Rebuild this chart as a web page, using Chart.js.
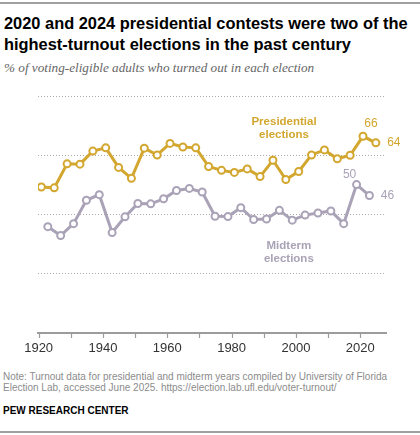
<!DOCTYPE html>
<html>
<head>
<meta charset="utf-8">
<script src="https://cdn.jsdelivr.net/npm/chart.js@4.4.1/dist/chart.umd.min.js"></script>
<style>
  body { margin: 0; width: 420px; height: 435px; background: #fff; position: relative; overflow: hidden; font-family: "Liberation Sans", Arial, sans-serif; }
  .rule { position: absolute; left: 0; width: 420px; height: 2px; background: #a0a0a0; }
  #title { position: absolute; left: 4px; top: 13px; width: 416px; font-weight: bold; font-size: 16.4px; line-height: 21px; color: #000; white-space: nowrap; }
  #subtitle { position: absolute; left: 4px; top: 60px; font-family: "Liberation Serif", Georgia, serif; font-style: italic; font-size: 13.2px; color: #666; }
  #chart-wrap { position: absolute; left: 0; top: 0; width: 420px; height: 358px; }
  #note { position: absolute; left: 3px; top: 372px; font-size: 10px; line-height: 10.5px; color: #8c8c8c; }
  #source { position: absolute; left: 3px; top: 405px; font-size: 10px; font-weight: bold; color: #000; }
</style>
</head>
<body>
<div class="rule" style="top:2px"></div>
<div id="title">2020 and 2024 presidential contests were two of the<br>highest-turnout elections in the past century</div>
<div id="subtitle">% of voting-eligible adults who turned out in each election</div>
<div id="chart-wrap"><canvas id="turnout-chart"></canvas></div>
<div id="note">Note: Turnout data for presidential and midterm years compiled by University of Florida<br>Election Lab, accessed June 2025. https://election.lab.ufl.edu/voter-turnout/</div>
<div id="source">PEW RESEARCH CENTER</div>
<div class="rule" style="top:431px"></div>

<script>
const presidentialYears = [1920, 1924, 1928, 1932, 1936, 1940, 1944, 1948, 1952, 1956, 1960, 1964, 1968, 1972,
  1976, 1980, 1984, 1988, 1992, 1996, 2000, 2004, 2008, 2012, 2016, 2020, 2024];
const presidentialTurnout = [49.3, 49.0, 57.1, 57.0, 61.4, 62.5, 55.9, 52.2, 62.4, 60.1, 64.0, 62.8, 62.5, 56.2,
  54.9, 54.2, 55.4, 52.8, 58.3, 51.8, 54.5, 60.1, 61.8, 58.8, 60.0, 66.4, 64.2];

const midtermYears = [1922, 1926, 1930, 1934, 1938, 1942, 1946, 1950, 1954, 1958, 1962, 1966, 1970, 1974,
  1978, 1982, 1986, 1990, 1994, 1998, 2002, 2006, 2010, 2014, 2018, 2022];
const midtermTurnout = [35.9, 32.9, 36.9, 44.8, 46.7, 33.9, 39.2, 43.7, 43.6, 45.3, 48.1, 48.8, 47.6, 39.4,
  39.3, 42.3, 38.3, 38.5, 41.4, 38.1, 39.8, 40.5, 41.2, 36.9, 50.1, 46.4];

const tickYears = [1920, 1930, 1940, 1950, 1960, 1970, 1980, 1990, 2000, 2010, 2020];
const labeledYears = [1920, 1940, 1960, 1980, 2000, 2020];
const gridValues = [0, 20, 40, 60, 80];

const GOLD = "#d3a72f";
const LAVENDER = "#aaa2b6";
const AXIS = "#9c9c9c";

// elections are held in early November, so plot each one near the end of its year
const NOV = 0.85;
const toPoints = (years, vals) => years.map((yr, i) => ({ x: yr + NOV, y: vals[i] }));

// text labels placed next to the lines
const notes = [
  { text: "Presidential", x: 1996.3, y: 71.4, dx: 0, dy: 0, color: GOLD, bold: true, size: 11.5 },
  { text: "elections", x: 1996.3, y: 71.4, dx: 0, dy: 13, color: GOLD, bold: true, size: 11.5 },
  { text: "66", x: 2020 + NOV, y: 66.4, dx: 8, dy: -13, color: GOLD, size: 12 },
  { text: "64", x: 2024 + NOV, y: 64.2, dx: 18, dy: 0, color: GOLD, size: 12 },
  { text: "50", x: 2018 + NOV, y: 50.1, dx: -7, dy: -10, color: LAVENDER, size: 12 },
  { text: "46", x: 2022 + NOV, y: 46.4, dx: 18, dy: 0, color: LAVENDER, size: 12 },
  { text: "Midterm", x: 1997.8, y: 29.5, dx: 0, dy: 0, color: LAVENDER, bold: true, size: 11.5 },
  { text: "elections", x: 1997.8, y: 29.5, dx: 0, dy: 13, color: LAVENDER, bold: true, size: 11.5 },
];

const lineLabels = {
  id: "lineLabels",
  afterDatasetsDraw(chart) {
    const { ctx, scales } = chart;
    ctx.save();
    ctx.textAlign = "center";
    ctx.textBaseline = "middle";
    notes.forEach(n => {
      ctx.font = (n.bold ? "bold " : "") + n.size + 'px "Liberation Sans", Arial, sans-serif';
      ctx.fillStyle = n.color;
      ctx.fillText(n.text, scales.x.getPixelForValue(n.x) + n.dx, scales.y.getPixelForValue(n.y) + n.dy);
    });
    ctx.restore();
  }
};

// solid baseline at 0 with small decade ticks hanging below it
const baseAxis = {
  id: "baseAxis",
  afterDraw(chart) {
    const { ctx, scales } = chart;
    const yb = Math.round(scales.y.getPixelForValue(0));
    const x0 = scales.x.getPixelForValue(scales.x.min);
    const x1 = scales.x.getPixelForValue(scales.x.max);
    ctx.save();
    ctx.setLineDash([]);
    ctx.globalAlpha = 1;
    ctx.strokeStyle = AXIS;
    ctx.lineWidth = 2;
    ctx.beginPath();
    ctx.moveTo(x0, yb);
    ctx.lineTo(x1, yb);
    ctx.stroke();
    ctx.lineWidth = 1.2;
    ctx.beginPath();
    tickYears.forEach(t => {
      const px = Math.round(scales.x.getPixelForValue(t)) + 0.5;
      ctx.moveTo(px, yb);
      ctx.lineTo(px, yb + 5);
    });
    ctx.stroke();
    ctx.restore();
  }
};

const seriesStyle = color => ({
  borderColor: color,
  backgroundColor: "#fff",
  borderWidth: 3,
  pointRadius: 3.5,
  pointBorderWidth: 2,
  pointBackgroundColor: "#fff",
  pointBorderColor: color,
  fill: false,
  tension: 0,
});

new Chart(document.getElementById("turnout-chart"), {
  type: "line",
  data: {
    datasets: [
      { label: "Presidential elections", data: toPoints(presidentialYears, presidentialTurnout), ...seriesStyle(GOLD) },
      { label: "Midterm elections", data: toPoints(midtermYears, midtermTurnout), ...seriesStyle(LAVENDER) },
    ]
  },
  options: {
    responsive: true,
    maintainAspectRatio: false,
    animation: false,
    layout: { padding: { left: 38, right: 34, top: 96, bottom: 0 } },
    plugins: { legend: { display: false }, tooltip: { enabled: false } },
    scales: {
      x: {
        type: "linear",
        min: 1919.8,
        max: 2028,
        afterBuildTicks: axis => { axis.ticks = tickYears.map(v => ({ value: v })); },
        afterFit: axis => { axis.height = 25; },
        grid: { display: false },
        border: { display: true, color: AXIS, width: 2 },
        ticks: {
          color: "#333",
          font: { size: 13, family: '"Liberation Sans", Arial, sans-serif' },
          padding: 0,
          autoSkip: false,
          maxRotation: 0,
          callback: v => labeledYears.includes(v) ? String(v) : "",
        },
      },
      y: {
        min: 0,
        max: 80,
        afterBuildTicks: axis => { axis.ticks = gridValues.map(v => ({ value: v })); },
        afterFit: axis => { axis.width = 0; },
        ticks: { display: false },
        border: { display: false, dash: [1, 2] },
        grid: {
          color: c => (c.tick && c.tick.value === 0) ? AXIS : "#aaaaaa",
          lineWidth: c => (c.tick && c.tick.value === 0) ? 2 : 1,
          drawTicks: false,
        },
      }
    }
  },
  plugins: [baseAxis, lineLabels]
});
</script>
</body>
</html>
